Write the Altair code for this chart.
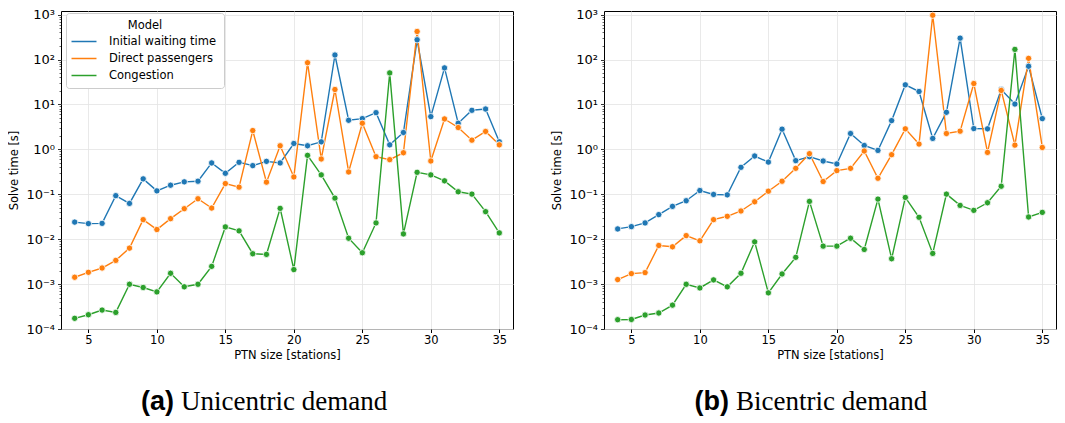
import json
import altair as alt
import pandas as pd

# ---------------- data ----------------
sizes = list(range(4, 36))
models = ["Initial waiting time", "Direct passengers", "Congestion"]
colors = ["#1f77b4", "#ff7f0e", "#2ca02c"]

# (a) Unicentric demand
uni_initial = [0.024, 0.0222, 0.0225, 0.093, 0.0625, 0.22, 0.119, 0.159, 0.189, 0.195,
               0.498, 0.293, 0.514, 0.434, 0.54, 0.498, 1.35, 1.2, 1.47, 126,
               4.44, 4.83, 6.56, 1.26, 2.37, 275, 5.35, 65, 3.81, 7.4, 7.9, 1.47]
uni_direct = [0.00142, 0.00183, 0.00228, 0.00337, 0.00632, 0.0272, 0.0164, 0.0286, 0.0477, 0.0794,
              0.0493, 0.173, 0.144, 2.62, 0.186, 1.2, 0.243, 85, 0.61, 21.5,
              0.314, 3.81, 0.686, 0.589, 0.84, 421, 0.55, 4.75, 3.06, 1.6, 2.5, 1.26]
uni_congestion = [0.000173, 0.000208, 0.000264, 0.000234, 0.00099, 0.00084, 0.00067, 0.00174, 0.00087, 0.00099,
                  0.00248, 0.01875, 0.0153, 0.00474, 0.00458, 0.0485, 0.0021, 0.735, 0.27, 0.082,
                  0.0105, 0.00498, 0.023, 50.3, 0.0131, 0.308, 0.27, 0.199, 0.1135, 0.1007, 0.041, 0.0138]

# (b) Bicentric demand
bi_initial = [0.0169, 0.019, 0.023, 0.0352, 0.0537, 0.0718, 0.121, 0.099, 0.097, 0.398,
              0.71, 0.52, 2.81, 0.56, 0.686, 0.55, 0.473, 2.25, 1.22, 0.946,
              4.36, 27.3, 19.4, 1.75, 6.68, 299, 2.9, 2.86, 21.5, 10.2, 70.8, 4.83]
bi_direct = [0.00126, 0.00171, 0.0018, 0.00724, 0.00676, 0.012, 0.0092, 0.0272, 0.0323, 0.0424,
             0.068, 0.117, 0.195, 0.378, 0.8, 0.192, 0.336, 0.378, 0.917, 0.227,
             0.76, 2.86, 1.31, 966, 2.25, 2.54, 29.2, 0.855, 20.5, 1.24, 106, 1.1]
bi_congestion = [0.000161, 0.000163, 0.000205, 0.000227, 0.00034, 0.00099, 0.00082, 0.00124, 0.00087, 0.00174,
                 0.00873, 0.000638, 0.00168, 0.00394, 0.0693, 0.007, 0.007, 0.0105, 0.0059, 0.078,
                 0.00367, 0.085, 0.0307, 0.00482, 0.1007, 0.0565, 0.0438, 0.0647, 0.151, 168, 0.0312, 0.0395]

caption_letters = ["(a)", "(b)"]
caption_texts = ["Unicentric demand", "Bicentric demand"]

x_ticks = [5, 10, 15, 20, 25, 30, 35]
y_major = [1e-4, 1e-3, 1e-2, 1e-1, 1, 10, 100, 1000]
y_major_labels = ["10⁻⁴", "10⁻³", "10⁻²", "10⁻¹", "10⁰", "10¹", "10²", "10³"]
y_minor_mult = [2, 3, 4, 5, 6, 7, 8, 9]
y_ticks = y_major + [m * t for t in y_major[:-1] for m in y_minor_mult]


def long_df(series):
    rows = []
    for name, vals in zip(models, series):
        for s, v in zip(sizes, vals):
            rows.append({"size": s, "Model": name, "time": v})
    return pd.DataFrame(rows)


df_uni = long_df([uni_initial, uni_direct, uni_congestion])
df_bi = long_df([bi_initial, bi_direct, bi_congestion])

# ---------------- style ----------------
W, H = 452, 318
CAP_Y = 399
is_major = "abs(log(datum.value)/LN10 - round(log(datum.value)/LN10)) < 0.001"
label_expr = (f"{is_major} ? {json.dumps(y_major_labels, ensure_ascii=False)}"
              f"[round(log(datum.value)/LN10)+4] : ''")

x_enc = alt.X("size:Q", title="PTN size [stations]",
              scale=alt.Scale(domain=[3, 36], nice=False, zero=False),
              axis=alt.Axis(values=x_ticks, tickSize=3.5, labelPadding=2, titlePadding=3,
                            labelFlush=False))
y_enc = alt.Y("time:Q", title="Solve time [s]",
              scale=alt.Scale(type="log", domain=[1e-4, 10 ** 3.08], nice=False),
              axis=alt.Axis(values=y_ticks, labelExpr=label_expr, labelOverlap=False,
                            labelFontSize=13,
                            tickSize={"condition": {"test": is_major, "value": 3.5}, "value": 2},
                            tickWidth={"condition": {"test": is_major, "value": 0.8}, "value": 0.6},
                            gridOpacity={"condition": {"test": is_major, "value": 1}, "value": 0},
                            labelPadding=3, titlePadding=6))


def panel(df, letter, text, legend, letter_x, text_x):
    color = alt.Color("Model:N", sort=models,
                      scale=alt.Scale(domain=models, range=colors),
                      legend=legend)
    base = alt.Chart(df).encode(x=x_enc, y=y_enc, color=color, detail="Model:N")
    line = base.mark_line(strokeWidth=1.4)
    pts = base.mark_circle(size=40, opacity=1, stroke="white", strokeWidth=0.8)
    cap_a = alt.Chart(pd.DataFrame({"t": [letter]})).mark_text(
        font="Liberation Sans", fontWeight="bold", fontSize=27, align="right",
        baseline="alphabetic", color="black").encode(
        x=alt.value(letter_x), y=alt.value(CAP_Y), text="t:N")
    cap_b = alt.Chart(pd.DataFrame({"t": [text]})).mark_text(
        font="Liberation Serif", fontSize=27, align="left",
        baseline="alphabetic", color="black").encode(
        x=alt.value(text_x), y=alt.value(CAP_Y), text="t:N")
    return alt.layer(line, pts, cap_a, cap_b).properties(width=W, height=H)


legend = alt.Legend(title="Model", orient="none", legendX=5, legendY=2,
                    symbolType="M-2,0H2", symbolSize=156, symbolStrokeWidth=1.5,
                    symbolOffset=4,
                    labelFontSize=11.5, titleFontSize=11.5, titleFontWeight="normal",
                    titleAnchor="middle", titleAlign="center", labelOffset=18,
                    strokeColor="#cccccc", fillColor="white", padding=7, cornerRadius=3,
                    rowPadding=4, titlePadding=3, labelFont="DejaVu Sans", titleFont="DejaVu Sans",
                    labelColor="black", titleColor="black")

left = panel(df_uni, caption_letters[0], caption_texts[0], legend, 113, 120)
right = panel(df_bi, caption_letters[1], caption_texts[1], None, 125, 132)

chart = alt.hconcat(left, right, spacing=37).resolve_scale(color="independent").properties(
    padding={"left": 0, "top": 0, "right": 0, "bottom": 0}
).configure_view(
    stroke="black", strokeWidth=1
).configure_axis(
    labelFont="DejaVu Sans", titleFont="DejaVu Sans", labelFontSize=11.5, titleFontSize=11.5,
    titleFontWeight="normal", labelColor="black", titleColor="black",
    tickColor="black", domain=False, gridColor="#e3e3e3", gridWidth=0.8
)

chart.save("out.html", embed_options={"renderer": "svg", "actions": False})
